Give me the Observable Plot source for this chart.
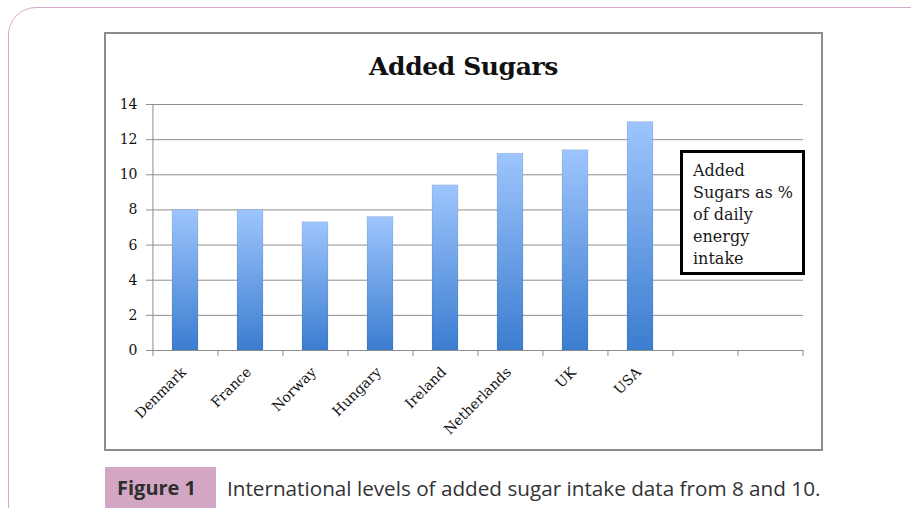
<!DOCTYPE html>
<html>
<head>
<meta charset="utf-8">
<script src="https://cdn.jsdelivr.net/npm/d3@7"></script>
<script src="https://cdn.jsdelivr.net/npm/@observablehq/plot@0.6"></script>
<style>
  html, body { margin: 0; padding: 0; background: #fff; }
  body { width: 911px; height: 508px; position: relative; overflow: hidden; }
  .outer { position: absolute; left: 8px; top: 7px; width: 940px; height: 540px; border: 1.5px solid #d6a7c9; border-radius: 28px; box-sizing: border-box; }
  .frame { position: absolute; left: 104px; top: 32px; width: 719px; height: 419px; border: 2px solid #8c8c8c; box-sizing: border-box; }
  .title { position: absolute; left: 104px; width: 719px; top: 52px; text-align: center; font: bold 25px/30px "DejaVu Serif", serif; color: #111; letter-spacing: -0.4px; }
  #chart { position: absolute; left: 106px; top: 90px; }
  .legend { position: absolute; left: 680px; top: 150px; width: 125px; height: 125px; border: 3px solid #000; box-sizing: border-box; padding: 7px 0 0 10px; font: 16px/22px "DejaVu Serif", serif; color: #1a1a1a; background: #fff; }
  .figbox { position: absolute; left: 105px; top: 467px; width: 111px; height: 41px; background: #d3a7c4; }
  .figlabel { position: absolute; left: 117px; top: 474px; font: bold 20px/28px "Open Sans", sans-serif; color: #2e2e2e; white-space: nowrap; }
  .caption { position: absolute; left: 227px; top: 474px; font: 20.7px/28px "Open Sans", sans-serif; color: #333; white-space: nowrap; }
</style>
</head>
<body>
<div class="outer"></div>
<div class="frame"></div>
<div class="title">Added Sugars</div>
<div id="chart"></div>
<div class="legend">Added<br>Sugars as %<br>of daily<br>energy<br>intake</div>
<div class="figbox"></div>
<div class="figlabel">Figure 1</div>
<div class="caption">International levels of added sugar intake data from 8 and 10.</div>
<script>
// Data
const countries = ["Denmark", "France", "Norway", "Hungary", "Ireland", "Netherlands", "UK", "USA"];
const values = [8.0, 8.0, 7.3, 7.6, 9.4, 11.2, 11.4, 13.0];
const emptySlots = ["", " "];
const yTicks = [0, 2, 4, 6, 8, 10, 12, 14];

const data = countries.map((c, i) => ({country: c, value: values[i]}));
const xDomain = [...countries, ...emptySlots];

const W = 714, H = 358;
const mL = 46, mR = 17, mT = 14, mB = 98;
const step = (W - mL - mR) / xDomain.length;
const gray = "#8e8e8e";

const svg = Plot.plot({
  width: W,
  height: H,
  marginLeft: mL,
  marginRight: mR,
  marginTop: mT,
  marginBottom: mB,
  style: {fontFamily: "DejaVu Serif, serif", fontSize: "14px", color: "#1a1a1a", background: "transparent"},
  x: {domain: xDomain, paddingInner: 0.6, paddingOuter: 0.3, axis: null},
  y: {domain: [0, 14]},
  marks: [
    Plot.gridY({ticks: yTicks, stroke: gray, strokeOpacity: 1}),
    Plot.axisY({ticks: yTicks, tickSize: 6, tickPadding: 9, stroke: gray, strokeOpacity: 1, fill: "#111", fontSize: 14, label: null}),
    Plot.barY(data, {x: "country", y: "value", fill: "url(#barGrad)", stroke: "#000", strokeOpacity: 0.08, strokeWidth: 1}),
    Plot.ruleY([0], {stroke: gray}),
    Plot.ruleX([xDomain[0]], {y1: 14, y2: 0, insetBottom: -6, dx: -step / 2, stroke: gray}),
    Plot.ruleX(xDomain.slice(1), {y1: 0, y2: 0, insetBottom: -6, dx: -step / 2, stroke: gray}),
    Plot.ruleX([xDomain[xDomain.length - 1]], {y1: 0, y2: 0, insetBottom: -6, dx: step / 2, stroke: gray}),
    Plot.text(data, {x: "country", frameAnchor: "bottom", text: "country", rotate: -45, textAnchor: "end", dx: 1.5, dy: 22.5, fontSize: 14, fill: "#111"})
  ]
});

const defs = d3.select(svg).insert("defs", ":first-child");
const grad = defs.append("linearGradient").attr("id", "barGrad").attr("x1", 0).attr("y1", 0).attr("x2", 0).attr("y2", 1);
grad.append("stop").attr("offset", "0%").attr("stop-color", "#9ec5fd");
grad.append("stop").attr("offset", "100%").attr("stop-color", "#3b7dd0");

document.getElementById("chart").appendChild(svg);
</script>
</body>
</html>
